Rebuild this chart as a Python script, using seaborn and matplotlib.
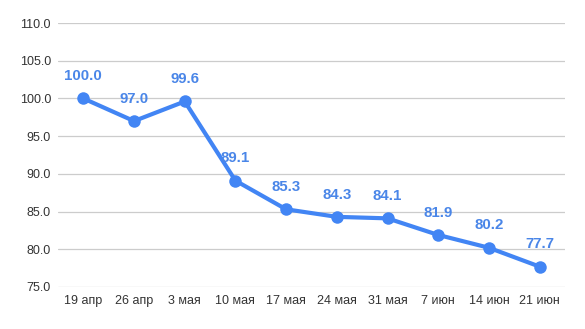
import matplotlib
matplotlib.use("Agg")
import matplotlib.pyplot as plt
import seaborn as sns
import pandas as pd

dates = ["19 апр", "26 апр", "3 мая", "10 мая", "17 мая", "24 мая", "31 мая", "7 июн", "14 июн", "21 июн"]
values = [100.0, 97.0, 99.6, 89.1, 85.3, 84.3, 84.1, 81.9, 80.2, 77.7]
yticks = [75, 80, 85, 90, 95, 100, 105, 110]

sns.set_theme(style="white")
plt.rcParams['font.family'] = ['Liberation Sans', 'DejaVu Sans']

df = pd.DataFrame({"date": dates, "value": values})
color = "#4285F4"

fig = plt.figure(figsize=(5.85, 3.29), dpi=100)
ax = fig.add_axes([0.0991, 0.1277, 0.8667, 0.8023])
ax.set_xlim(-0.5, len(dates) - 0.5)
ax.set_ylim(75, 110)
ax.set_yticks(yticks)
ax.set_yticklabels([f"{v:.1f}" for v in yticks])
for y in yticks:
    ax.axhline(y, color="#cccccc", lw=0.9, zorder=0)

sns.lineplot(data=df, x="date", y="value", sort=False, color=color, lw=3,
             marker="o", markersize=9, markeredgewidth=0, ax=ax)

for i, v in enumerate(values):
    ax.annotate(f"{v:.1f}", (i, v), xytext=(0, 11), textcoords="offset points",
                ha="center", va="bottom", color="#4a86e8", fontsize=10.8, fontweight="bold")

for s in ax.spines.values():
    s.set_visible(False)
ax.set_xlabel("")
ax.set_ylabel("")
ax.tick_params(axis="both", length=0, labelsize=9, colors="#333333")
ax.tick_params(axis="y", pad=5)
ax.tick_params(axis="x", pad=6)

fig.savefig("out.png", dpi=100)
